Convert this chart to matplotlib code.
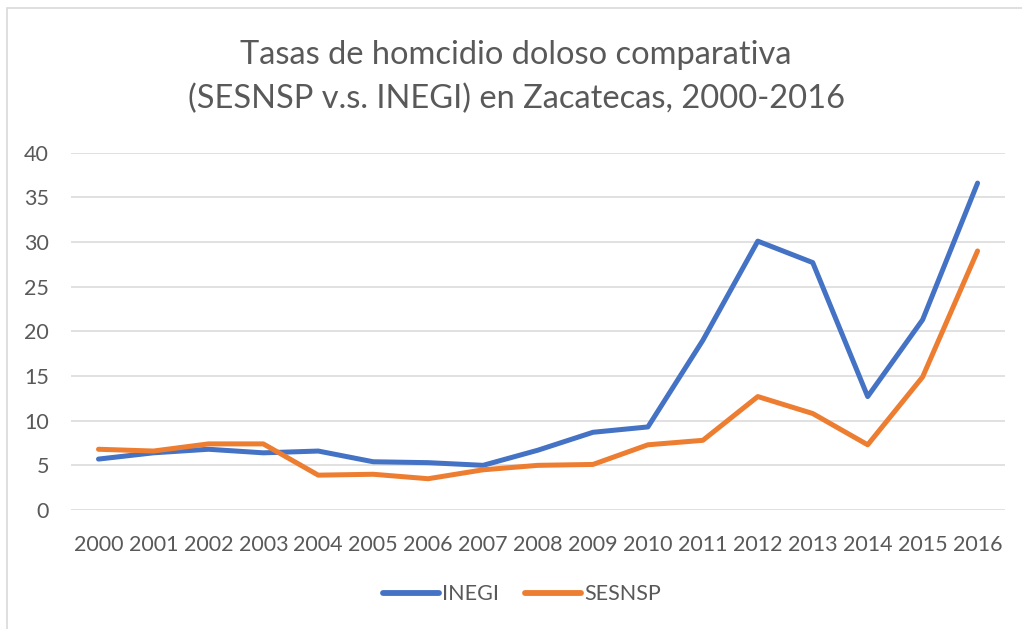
import matplotlib.pyplot as plt
from matplotlib.patches import Rectangle

plt.rcParams['font.family'] = ['Lato', 'DejaVu Sans']

years = ['2000', '2001', '2002', '2003', '2004', '2005', '2006', '2007', '2008',
         '2009', '2010', '2011', '2012', '2013', '2014', '2015', '2016']
inegi = [5.7, 6.4, 6.8, 6.4, 6.6, 5.4, 5.3, 5.0, 6.7, 8.7, 9.3, 19.0, 30.1,
         27.7, 12.7, 21.3, 36.6]
sesnsp = [6.8, 6.6, 7.4, 7.4, 3.9, 4.0, 3.5, 4.5, 5.0, 5.1, 7.3, 7.8, 12.7,
          10.8, 7.3, 14.9, 29.0]
yticks = [0, 5, 10, 15, 20, 25, 30, 35, 40]

txt = '#595959'
fig = plt.figure(figsize=(10.22, 6.29), dpi=100)
ax = fig.add_axes([0.0695, 0.1892, 0.9139, 0.568])

x = range(len(years))
ax.plot(x, inegi, color='#4472C4', lw=3.6, solid_capstyle='round',
        solid_joinstyle='round', label='INEGI')
ax.plot(x, sesnsp, color='#ED7D31', lw=3.6, solid_capstyle='round',
        solid_joinstyle='round', label='SESNSP')

ax.set_xlim(-0.5, len(years) - 0.5)
ax.set_ylim(0, 40)
ax.set_yticks(yticks)
ax.set_xticks(list(x))
ax.set_xticklabels(years)
ax.grid(axis='y', color='#D9D9D9', lw=1.1)
ax.set_axisbelow(True)
for s in ax.spines.values():
    s.set_visible(False)
ax.tick_params(length=0, labelsize=15.5, colors=txt)
ax.tick_params(axis='x', pad=18)
ax.tick_params(axis='y', pad=16)

fig.text(0.505, 0.878, 'Tasas de homcidio doloso comparativa\n(SESNSP v.s. INEGI) en Zacatecas, 2000-2016',
         ha='center', va='center', fontsize=23.5, color=txt, linespacing=1.55)

leg = fig.legend(loc='center', bbox_to_anchor=(0.511, 0.055), ncol=2, frameon=False,
                 fontsize=15.5, handlelength=2.6, columnspacing=1.2, handletextpad=0.15)
for t in leg.get_texts():
    t.set_color(txt)
for h in leg.get_lines():
    h.set_linewidth(4.2)
    h.set_solid_capstyle('round')

# chart border (cropped at right/bottom)
fig.patches.append(Rectangle((7 / 1022, -0.05), 1.2, 1 - 8 / 629 + 0.05,
                             transform=fig.transFigure, fill=False,
                             edgecolor='#D9D9D9', lw=1.2))

fig.savefig('out.png', dpi=100)
